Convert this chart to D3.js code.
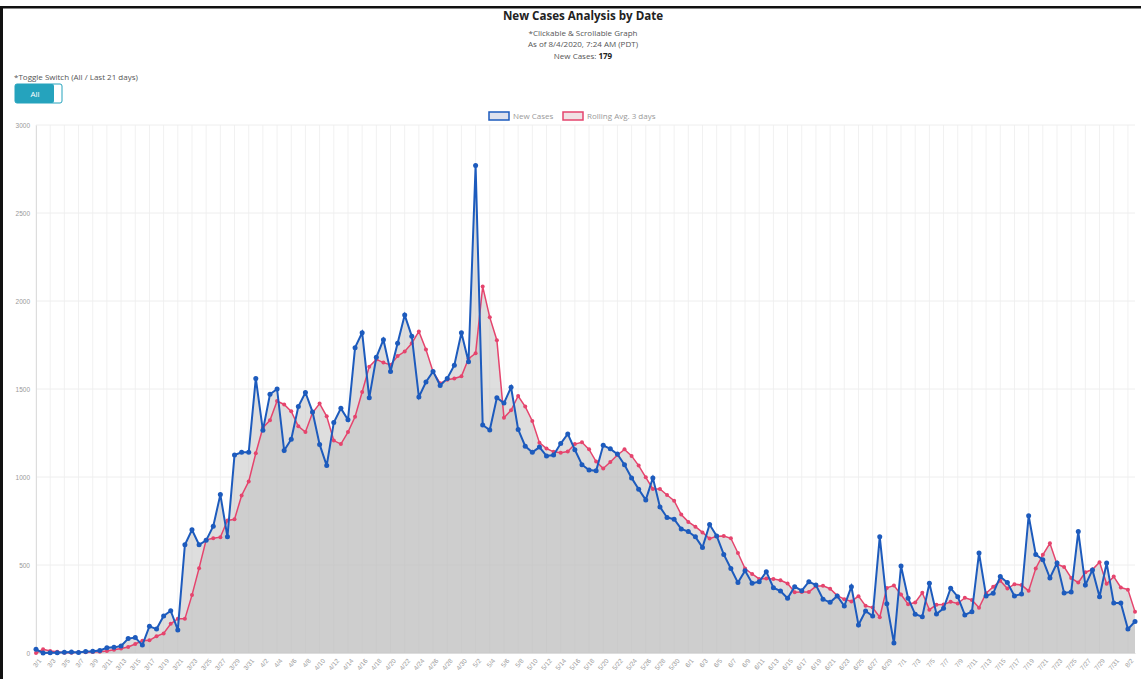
<!DOCTYPE html>
<html>
<head>
<meta charset="utf-8">
<script src="https://cdn.jsdelivr.net/npm/d3@7"></script>
<style>
  body { margin: 0; background: #fff; }
  svg { font-family: "Open Sans", "Noto Sans", sans-serif; }
</style>
</head>
<body>
<svg id="chart" width="1141" height="679"></svg>
<script>
// daily data, 3/1/2020 .. 8/3/2020
const startDate = "2020-03-01";
const endDate = "2020-08-03";

const newCases = [
  21, 0, 1, 2, 4, 6, 3, 8, 10, 14,
  30, 32, 40, 82, 88, 45, 152, 136, 210, 240,
  131, 615, 700, 615, 640, 720, 900, 660, 1125, 1140,
  1140, 1560, 1265, 1470, 1500, 1150, 1215, 1400, 1480, 1370,
  1185, 1065, 1310, 1390, 1325, 1735, 1820, 1450, 1680, 1780,
  1600, 1760, 1920, 1800, 1455, 1540, 1600, 1520, 1560, 1635,
  1820, 1655, 2770, 1295, 1267, 1450, 1420, 1510, 1270, 1175,
  1140, 1170, 1120, 1125, 1190, 1245, 1155, 1070, 1040, 1035,
  1180, 1160, 1130, 1070, 995, 930, 870, 995, 830, 770,
  760, 705, 690, 660, 600, 730, 665, 560, 480, 400,
  468, 396, 405, 462, 371, 352, 311, 377, 354, 405,
  386, 305, 288, 324, 267, 377, 159, 239, 210, 660,
  280, 57, 494, 311, 220, 206, 396, 222, 254, 368,
  320, 216, 235, 568, 324, 339, 434, 400, 324, 335,
  780, 560, 530, 426, 511, 341, 347, 690, 386, 472,
  320, 511, 284, 284, 136, 179
];

const rollingAvg = [
  0, 21, 11, 7, 1, 2, 4, 4, 6, 7,
  11, 18, 25, 34, 51, 70, 72, 95, 111, 166,
  195, 194, 329, 482, 643, 652, 658, 753, 760, 895,
  975, 1135, 1280, 1322, 1432, 1412, 1373, 1288, 1255, 1365,
  1417, 1345, 1207, 1187, 1255, 1342, 1483, 1627, 1668, 1650,
  1637, 1687, 1713, 1760, 1827, 1725, 1598, 1532, 1553, 1560,
  1572, 1672, 1703, 2082, 1907, 1777, 1337, 1379, 1460, 1400,
  1318, 1195, 1162, 1143, 1138, 1145, 1187, 1197, 1157, 1088,
  1048, 1085, 1125, 1157, 1120, 1065, 998, 932, 932, 898,
  865, 787, 745, 718, 685, 650, 663, 665, 652, 568,
  480, 449, 421, 423, 421, 413, 395, 345, 347, 347,
  379, 382, 365, 326, 306, 293, 323, 268, 258, 203,
  370, 383, 332, 277, 287, 342, 246, 274, 275, 291,
  281, 314, 301, 257, 340, 376, 410, 366, 391, 386,
  353, 480, 558, 623, 505, 489, 426, 400, 459, 474,
  516, 393, 434, 372, 360, 235
];

const yTicks = [0, 500, 1000, 1500, 2000, 2500, 3000];

const parse = d3.timeParse("%Y-%m-%d");
const fmt = d3.timeFormat("%-m/%-d");
const dates = d3.timeDay.range(parse(startDate), d3.timeDay.offset(parse(endDate), 1)).map(fmt);
const xTicks = dates.filter((d, i) => i % 2 === 0);

const blue = "#1d5bbd";
const red = "#e5446d";
const cx = 583;

const svg = d3.select("#chart");

// frame edges from the screenshot
svg.append("rect").attr("x", 0).attr("y", 6).attr("width", 1141).attr("height", 2.5).attr("fill", "#111");
svg.append("rect").attr("x", 0).attr("y", 6).attr("width", 3).attr("height", 673).attr("fill", "#111");

// title block
svg.append("text").attr("x", cx).attr("y", 20).attr("text-anchor", "middle")
  .attr("font-size", 11.6).attr("font-weight", "bold").attr("fill", "#222")
  .text("New Cases Analysis by Date");
svg.append("text").attr("x", cx).attr("y", 36).attr("text-anchor", "middle")
  .attr("font-size", 8).attr("fill", "#555").text("*Clickable & Scrollable Graph");
svg.append("text").attr("x", cx).attr("y", 47).attr("text-anchor", "middle")
  .attr("font-size", 8).attr("fill", "#555").text("As of 8/4/2020, 7:24 AM (PDT)");
const nc = svg.append("text").attr("x", cx).attr("y", 58.5).attr("text-anchor", "middle")
  .attr("font-size", 8).attr("fill", "#555");
nc.append("tspan").text("New Cases: ");
nc.append("tspan").attr("font-weight", "bold").attr("fill", "#222").text("179");

// toggle switch
svg.append("text").attr("x", 14).attr("y", 80).attr("font-size", 8).attr("fill", "#555")
  .text("*Toggle Switch (All / Last 21 days)");
svg.append("rect").attr("x", 15).attr("y", 84).attr("width", 47).attr("height", 19)
  .attr("rx", 2).attr("fill", "#fff").attr("stroke", "#25a3bd");
svg.append("rect").attr("x", 15).attr("y", 84).attr("width", 39).attr("height", 19)
  .attr("rx", 2).attr("fill", "#25a3bd");
svg.append("text").attr("x", 35).attr("y", 96.5).attr("text-anchor", "middle")
  .attr("font-size", 8).attr("fill", "#fff").text("All");

const x = d3.scalePoint().domain(dates).range([36, 1135]);
const y = d3.scaleLinear().domain([0, 3000]).range([653, 125]);

// grid
svg.append("g").selectAll("line").data(xTicks).join("line")
  .attr("x1", d => x(d)).attr("x2", d => x(d)).attr("y1", 125).attr("y2", 653)
  .attr("stroke", "#f1f1f1");
svg.append("g").selectAll("line").data(yTicks).join("line")
  .attr("x1", 36).attr("x2", 1135).attr("y1", d => y(d)).attr("y2", d => y(d))
  .attr("stroke", "#eeeeee");

// axes
const yAxis = svg.append("g").attr("transform", "translate(36,0)")
  .call(d3.axisLeft(y).tickValues(yTicks).tickFormat(d3.format("d")).tickSize(0).tickPadding(6));
yAxis.select(".domain").attr("stroke", "#dddddd");
yAxis.selectAll("text").attr("font-size", 6.5).attr("fill", "#999").attr("font-family", null);

const xAxis = svg.append("g").attr("transform", "translate(0,653)")
  .call(d3.axisBottom(x).tickValues(xTicks).tickSize(0).tickPadding(4));
xAxis.select(".domain").attr("stroke", "#dddddd");
xAxis.selectAll("text").attr("font-size", 6.5).attr("fill", "#999").attr("font-family", null)
  .attr("text-anchor", "end").attr("dy", "0.5em").attr("dx", "0.2em")
  .attr("transform", "rotate(-50) translate(-4,2)");

// series
const series = [
  { values: rollingAvg, color: red, width: 1.5, r: 2 },
  { values: newCases, color: blue, width: 2, r: 2.5 }
];

series.forEach(s => {
  svg.append("path").datum(s.values)
    .attr("fill", "rgba(190,190,190,0.5)")
    .attr("d", d3.area().x((d, i) => x(dates[i])).y0(y(0)).y1(d => y(d)));
});
series.forEach(s => {
  svg.append("path").datum(s.values)
    .attr("fill", "none").attr("stroke", s.color).attr("stroke-width", s.width)
    .attr("d", d3.line().x((d, i) => x(dates[i])).y(d => y(d)));
  svg.append("g").selectAll("circle").data(s.values).join("circle")
    .attr("cx", (d, i) => x(dates[i])).attr("cy", d => y(d)).attr("r", s.r)
    .attr("fill", s.color);
});

// legend
const legend = [
  { label: "New Cases", color: blue, fill: "rgba(200,205,225,0.6)", x: 489 },
  { label: "Rolling Avg. 3 days", color: red, fill: "rgba(230,205,210,0.6)", x: 563 }
];
legend.forEach(l => {
  svg.append("rect").attr("x", l.x).attr("y", 112).attr("width", 20).attr("height", 8)
    .attr("fill", l.fill).attr("stroke", l.color).attr("stroke-width", 1.5);
  svg.append("text").attr("x", l.x + 24).attr("y", 119).attr("font-size", 8)
    .attr("fill", "#999").text(l.label);
});
</script>
</body>
</html>
